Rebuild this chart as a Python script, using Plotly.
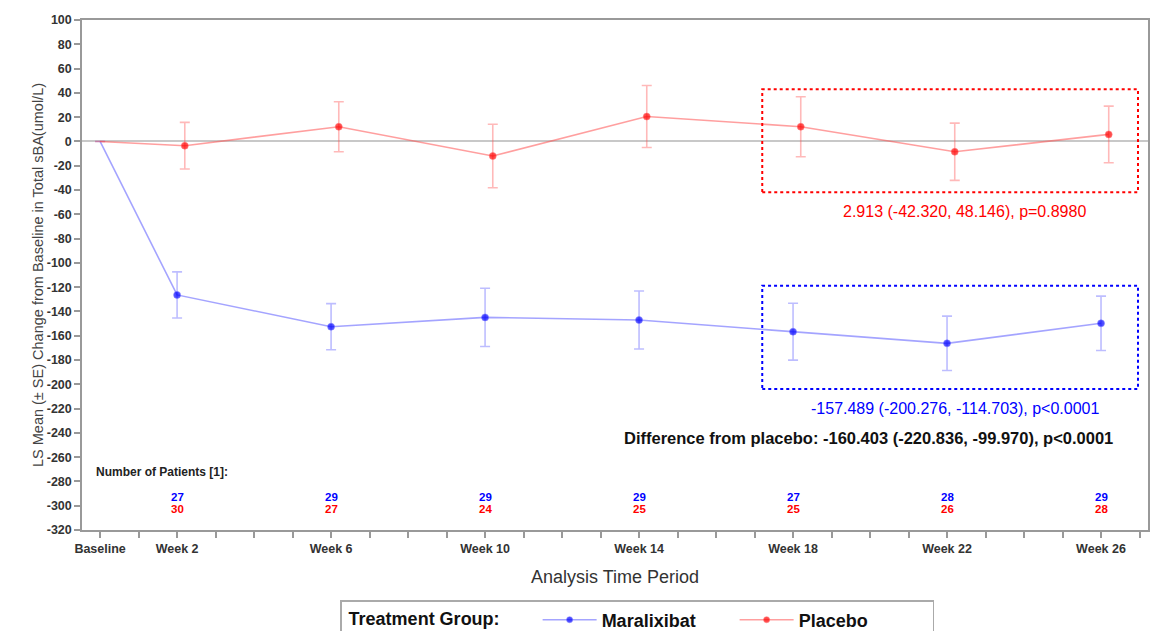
import plotly.graph_objects as go

# ---------------- data ----------------
weeks = [0, 2, 6, 10, 14, 18, 22, 26]
week_labels = ["Baseline", "Week 2", "Week 6", "Week 10", "Week 14", "Week 18", "Week 22", "Week 26"]

mar_mean = [0, -126.4, -152.6, -144.9, -147.1, -156.7, -166.3, -149.8]
mar_se = [None, 19.0, 19.0, 24.0, 23.9, 23.4, 22.4, 22.4]

pla_mean = [0, -3.5, 12.1, -12.0, 20.5, 12.1, -8.5, 5.8]
pla_se = [None, 19.2, 20.6, 26.1, 25.5, 24.7, 23.6, 23.3]

mar_n = [27, 29, 29, 29, 27, 28, 29]
pla_n = [30, 27, 24, 25, 25, 26, 28]

pla_offset = 0.2  # horizontal jitter of placebo points (weeks)

red_text = "2.913 (-42.320, 48.146), p=0.8980"
blue_text = "-157.489 (-200.276, -114.703), p<0.0001"
diff_text = "<b>Difference from placebo: -160.403 (-220.836, -99.970), p<0.0001</b>"

# box regions (data coords) highlighting weeks 18-26
box_x = [17.2, 26.96]
red_box_y = [-41.9, 42.9]
blue_box_y = [-203.9, -118.8]

FONT = "Liberation Sans, Arial, sans-serif"
BLUE = "#0000ff"
RED = "#ff0000"
NB = "\u00a0"

pla_x = [w + pla_offset if w > 0 else w for w in weeks]
msize = [0] + [7] * (len(weeks) - 1)

fig = go.Figure()
fig.add_trace(go.Scatter(
    x=weeks, y=mar_mean, mode="lines+markers", name="<b>Maralixibat</b>",
    line=dict(color="rgba(90,90,255,0.55)", width=1.6),
    marker=dict(color=BLUE, size=msize),
    error_y=dict(type="data", array=mar_se, visible=True,
                 color="rgba(90,90,255,0.4)", thickness=1.6, width=5),
))
fig.add_trace(go.Scatter(
    x=pla_x, y=pla_mean, mode="lines+markers", name="<b>Placebo</b>",
    line=dict(color="rgba(255,80,80,0.55)", width=1.6),
    marker=dict(color=RED, size=msize),
    error_y=dict(type="data", array=pla_se, visible=True,
                 color="rgba(255,80,80,0.4)", thickness=1.6, width=5),
))

# highlight boxes
fig.add_shape(type="rect", x0=box_x[0], x1=box_x[1], y0=red_box_y[0], y1=red_box_y[1],
              line=dict(color=RED, width=2, dash="dot"), layer="above")
fig.add_shape(type="rect", x0=box_x[0], x1=box_x[1], y0=blue_box_y[0], y1=blue_box_y[1],
              line=dict(color=BLUE, width=2, dash="dot"), layer="above")

ann = []
ann.append(dict(x=22.45, y=-57.9, text=red_text, showarrow=False,
                font=dict(family=FONT, size=16, color=RED)))
ann.append(dict(x=22.2, y=-219.6, text=blue_text, showarrow=False,
                font=dict(family=FONT, size=16, color=BLUE)))
ann.append(dict(x=19.97, y=-244.3, text=diff_text, showarrow=False,
                font=dict(family=FONT, size=16.5, color="#111111")))
ann.append(dict(x=-0.16, y=-272, text="<b>Number of Patients [1]:</b>", showarrow=False,
                xanchor="left", font=dict(family=FONT, size=12, color="#222222")))
for w, nm, npl in zip(weeks[1:], mar_n, pla_n):
    ann.append(dict(x=w, y=-292.6, text=f"<b>{nm}</b>", showarrow=False,
                    font=dict(family=FONT, size=11.5, color=BLUE)))
    ann.append(dict(x=w, y=-302.5, text=f"<b>{npl}</b>", showarrow=False,
                    font=dict(family=FONT, size=11.5, color=RED)))

tickvals = list(range(0, 28))
ticktext = [f"<b>{week_labels[weeks.index(t)]}</b>" if t in weeks else "" for t in tickvals]

fig.update_layout(
    width=1151, height=631,
    margin=dict(l=82, r=3, t=20, b=101),
    paper_bgcolor="white", plot_bgcolor="white",
    font=dict(family=FONT, color="#333333"),
    annotations=ann,
    showlegend=True,
    legend=dict(
        orientation="h", x=0.5535, xanchor="center", xref="container",
        y=1 - 600 / 631, yanchor="top", yref="container",
        title=dict(text=NB + "<b>Treatment Group:</b>" + NB * 6, side="left",
                   font=dict(family=FONT, size=18, color="#111111")),
        font=dict(family=FONT, size=18, color="#111111"),
        bordercolor="#aaaaaa", borderwidth=1.5, bgcolor="white",
        itemwidth=54, entrywidth=128,
    ),
    xaxis=dict(
        range=[-0.47, 27.22], tickvals=tickvals, ticktext=ticktext,
        ticks="outside", ticklen=6, tickcolor="#999999", tickwidth=1.5,
        showline=True, linecolor="#999999", linewidth=1.5, mirror=True,
        showgrid=False, zeroline=False, automargin=False,
        tickfont=dict(family=FONT, size=12.5, color="#333333"),
        title=dict(text="Analysis Time Period", standoff=16,
                   font=dict(family=FONT, size=18, color="#333333")),
    ),
    yaxis=dict(
        range=[-320, 100], tickmode="array",
        tickvals=list(range(-320, 101, 20)),
        ticktext=[f"<b>{v}</b>" for v in range(-320, 101, 20)],
        ticks="outside", ticklen=6, tickcolor="#999999", tickwidth=1.5,
        showline=True, linecolor="#999999", linewidth=1.5, mirror=True,
        showgrid=False, zeroline=True, zerolinecolor="#c8c8c8", zerolinewidth=1.5,
        automargin=False,
        tickfont=dict(family=FONT, size=12.5, color="#333333"),
        title=dict(text="LS Mean (± SE) Change from Baseline in Total sBA(umol/L)" + NB * 6,
                   standoff=0, font=dict(family=FONT, size=14.5, color="#444444")),
    ),
)

fig.write_html("out.html", config={"displayModeBar": False},
               post_script="document.body.style.margin='0';document.body.style.overflow='hidden';")
